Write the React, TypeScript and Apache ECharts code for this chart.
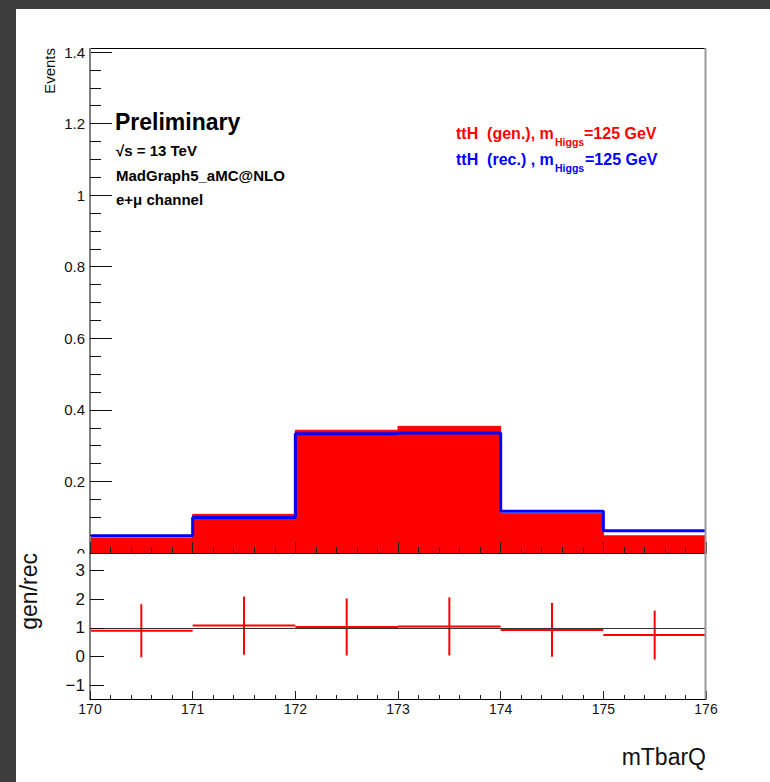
import React, { useEffect, useRef } from "react";
import * as echarts from "echarts";

const binEdges = [170, 171, 172, 173, 174, 175, 176];
const genValues = [0.042, 0.108, 0.343, 0.354, 0.11, 0.048];
const recValues = [0.048, 0.099, 0.333, 0.335, 0.117, 0.062];
const ratioValues = [0.9, 1.08, 1.03, 1.05, 0.93, 0.75];
const ratioErrors = [0.92, 1.01, 0.99, 1.01, 0.93, 0.85];
const lowerYTicks = [-1, 0, 1, 2, 3];
const refLineValue = 1;

const FONT = "'Liberation Sans', Arial, Helvetica, sans-serif";

function stepData(vals: number[]) {
  return binEdges.map((e, i) => [e, vals[Math.min(i, vals.length - 1)]]);
}

export default function App() {
  const ref = useRef<HTMLDivElement>(null);
  useEffect(() => {
    if (!ref.current) return;
    const chart = echarts.init(ref.current, null, { renderer: "svg" });
    const gL = 90, gR = 706, upTop = 52, upBottom = 553, loBottom = 699;
    const option: any = {
      animation: false,
      textStyle: { fontFamily: FONT },
      grid: [
        { left: gL, right: 770 - gR, top: upTop, height: upBottom - upTop },
        { left: gL, right: 770 - gR, top: upBottom, height: loBottom - upBottom },
      ],
      xAxis: [
        {
          type: "value", gridIndex: 0, min: 170, max: 176, interval: 1, z: 10,
          axisLine: { show: true, onZero: false, lineStyle: { color: "#000", width: 1 } },
          axisTick: { show: true, inside: true, length: 11, lineStyle: { color: "#222" } },
          minorTick: { show: true, splitNumber: 5, length: 6, lineStyle: { color: "#222" } },
          axisLabel: { show: false },
          splitLine: { show: false },
        },
        {
          type: "value", gridIndex: 1, min: 170, max: 176, interval: 1, z: 10,
          axisLine: { show: true, onZero: false, lineStyle: { color: "#000", width: 1 } },
          axisTick: { show: true, inside: true, length: 8, lineStyle: { color: "#222" } },
          minorTick: { show: true, splitNumber: 5, length: 4, lineStyle: { color: "#222" } },
          axisLabel: { show: true, fontSize: 14, margin: 3, color: "#111", fontFamily: FONT },
          splitLine: { show: false },
        },
      ],
      yAxis: [
        {
          type: "value", gridIndex: 0, min: 0, max: 1.4, interval: 0.2, z: 10,
          axisLine: { show: true, onZero: false, lineStyle: { color: "#808080", width: 2 } },
          axisTick: { show: true, inside: true, length: 22, lineStyle: { color: "#111" } },
          minorTick: { show: true, splitNumber: 4, length: 11, lineStyle: { color: "#111" } },
          axisLabel: {
            fontSize: 15, margin: 5, color: "#111", fontFamily: FONT,
            formatter: (v: number) => String(parseFloat(v.toFixed(2))),
          },
          splitLine: { show: false },
        },
        {
          type: "value", gridIndex: 1, min: -1.47, max: 3.6, z: 10,
          axisLine: { show: true, onZero: false, lineStyle: { color: "#808080", width: 2 } },
          axisTick: { show: true, inside: true, length: 14, customValues: lowerYTicks, lineStyle: { color: "#111" } },
          axisLabel: {
            fontSize: 17, margin: 5, color: "#111", fontFamily: FONT, customValues: lowerYTicks,
            formatter: (v: number) => (v < 0 ? "\u2212" + Math.abs(v) : String(v)),
          },
          splitLine: { show: false },
        },
      ],
      series: [
        {
          type: "line", xAxisIndex: 0, yAxisIndex: 0, step: "end", showSymbol: false, z: 2,
          data: stepData(genValues),
          lineStyle: { color: "#ff0000", width: 1 },
          areaStyle: { color: "#ff0000", opacity: 1, origin: "start" },
        },
        {
          type: "line", xAxisIndex: 0, yAxisIndex: 0, step: "end", showSymbol: false, z: 3,
          data: stepData(recValues),
          lineStyle: { color: "#0000ff", width: 3 },
        },
        {
          type: "custom", xAxisIndex: 1, yAxisIndex: 1, z: 4,
          data: ratioValues.map((v, i) => [binEdges[i], binEdges[i + 1], v, ratioErrors[i]]),
          encode: { x: [0, 1], y: 2 },
          renderItem: (params: any, api: any) => {
            const lo = api.value(0), hi = api.value(1), v = api.value(2), e = api.value(3);
            const c = (lo + hi) / 2;
            const p1 = api.coord([lo, v]), p2 = api.coord([hi, v]);
            const t = api.coord([c, v + e]), b = api.coord([c, v - e]);
            const st = { stroke: "#ff0000", lineWidth: 2 };
            return {
              type: "group",
              children: [
                { type: "line", shape: { x1: p1[0], y1: p1[1], x2: p2[0], y2: p2[1] }, style: st },
                { type: "line", shape: { x1: t[0], y1: t[1], x2: b[0], y2: b[1] }, style: st },
              ],
            };
          },
          markLine: {
            silent: true, symbol: "none", label: { show: false },
            lineStyle: { color: "#333", width: 1.2, type: "solid" },
            data: [{ yAxis: refLineValue }],
          },
        },
      ],
      graphic: [
        { type: "rect", z: 100, shape: { x: 40, y: 553.5, width: 49, height: 8 }, style: { fill: "#fff" } },
        { type: "line", z: 100, shape: { x1: gL, y1: 48.5, x2: gR, y2: 48.5 }, style: { stroke: "#000", lineWidth: 1 } },
        { type: "line", z: 100, shape: { x1: gL, y1: 48, x2: gL, y2: upTop + 1 }, style: { stroke: "#808080", lineWidth: 2 } },
        { type: "line", z: 100, shape: { x1: gR - 0.5, y1: 48, x2: gR - 0.5, y2: loBottom }, style: { stroke: "#999", lineWidth: 2 } },
        {
          type: "text", z: 100, x: 49, y: 48, rotation: Math.PI / 2,
          style: { text: "Events", font: `15px ${FONT}`, fill: "#111", align: "right", verticalAlign: "middle" },
        },
        {
          type: "text", z: 100, x: 29, y: 553, rotation: Math.PI / 2,
          style: { text: "gen/rec", font: `23px ${FONT}`, fill: "#111", align: "right", verticalAlign: "middle" },
        },
        {
          type: "text", z: 100, x: 706, y: 757,
          style: { text: "mTbarQ", font: `23px ${FONT}`, fill: "#111", align: "right", verticalAlign: "middle" },
        },
        {
          type: "text", z: 100, x: 115, y: 122,
          style: { text: "Preliminary", font: `bold 23px ${FONT}`, fill: "#000", align: "left", verticalAlign: "middle" },
        },
        {
          type: "text", z: 100, x: 116, y: 150,
          style: { text: "\u221As = 13 TeV", font: `bold 15px ${FONT}`, fill: "#000", align: "left", verticalAlign: "middle" },
        },
        {
          type: "text", z: 100, x: 116, y: 175,
          style: { text: "MadGraph5_aMC@NLO", font: `bold 15px ${FONT}`, fill: "#000", align: "left", verticalAlign: "middle" },
        },
        {
          type: "text", z: 100, x: 116, y: 199,
          style: { text: "e+\u03BC channel", font: `bold 15px ${FONT}`, fill: "#000", align: "left", verticalAlign: "middle" },
        },
        {
          type: "text", z: 100, x: 456, y: 133,
          style: { text: "ttH  (gen.), m", font: `bold 16px ${FONT}`, fill: "#ff0000", align: "left", verticalAlign: "middle" },
        },
        {
          type: "text", z: 100, x: 555, y: 142,
          style: { text: "Higgs", font: `bold 10.5px ${FONT}`, fill: "#ff0000", align: "left", verticalAlign: "middle" },
        },
        {
          type: "text", z: 100, x: 584, y: 133,
          style: { text: "=125 GeV", font: `bold 16px ${FONT}`, fill: "#ff0000", align: "left", verticalAlign: "middle" },
        },
        {
          type: "text", z: 100, x: 456, y: 159,
          style: { text: "ttH  (rec.) , m", font: `bold 16px ${FONT}`, fill: "#0000ff", align: "left", verticalAlign: "middle" },
        },
        {
          type: "text", z: 100, x: 555, y: 168,
          style: { text: "Higgs", font: `bold 10.5px ${FONT}`, fill: "#0000ff", align: "left", verticalAlign: "middle" },
        },
        {
          type: "text", z: 100, x: 585, y: 159,
          style: { text: "=125 GeV", font: `bold 16px ${FONT}`, fill: "#0000ff", align: "left", verticalAlign: "middle" },
        },
      ],
    };
    chart.setOption(option);
    return () => chart.dispose();
  }, []);

  return (
    <div style={{ position: "fixed", left: 0, top: 0, width: 770, height: 782, background: "#3d3d3d", overflow: "hidden" }}>
      <div style={{ position: "absolute", left: 16, top: 9, width: 754, height: 773, background: "#ffffff" }} />
      <div ref={ref} style={{ position: "absolute", left: 0, top: 0, width: 770, height: 782 }} />
    </div>
  );
}
